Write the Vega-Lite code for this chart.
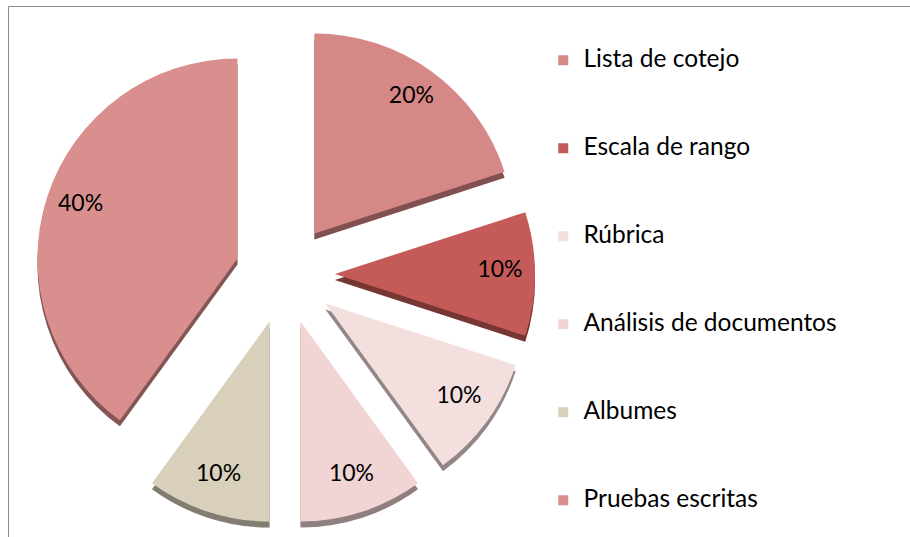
{
  "$schema": "https://vega.github.io/schema/vega-lite/v6.json",
  "width": 905,
  "height": 535,
  "autosize": "none",
  "padding": {"left": 8, "top": 6, "right": 0, "bottom": 0},
  "background": "#ffffff",
  "config": {"view": {"stroke": "#8c8c8c", "strokeWidth": 1}, "font": "Lato"},
  "data": {
    "values": [
      {"idx": 1, "tecnica": "Lista de cotejo", "pct": 20},
      {"idx": 2, "tecnica": "Escala de rango", "pct": 10},
      {"idx": 3, "tecnica": "Rúbrica", "pct": 10},
      {"idx": 4, "tecnica": "Análisis de documentos", "pct": 10},
      {"idx": 5, "tecnica": "Albumes", "pct": 10},
      {"idx": 6, "tecnica": "Pruebas escritas", "pct": 40}
    ]
  },
  "transform": [
    {"window": [{"op": "sum", "field": "pct", "as": "cum"}], "sort": [{"field": "idx"}], "frame": [null, 0]},
    {"calculate": "(datum.cum - datum.pct / 2) / 100 * 2 * PI", "as": "mid"},
    {"calculate": "sin(datum.mid)", "as": "ex"},
    {"calculate": "-cos(datum.mid)", "as": "ey"},
    {"calculate": "datum.pct + '%'", "as": "label"}
  ],
  "encoding": {
    "x": {"field": "ex", "type": "quantitative", "scale": {"domain": [-1, 1], "range": [227, 327], "zero": false, "nice": false}, "axis": null},
    "y": {"field": "ey", "type": "quantitative", "scale": {"domain": [-1, 1], "range": [218, 318], "zero": false, "nice": false}, "axis": null},
    "theta": {"field": "pct", "type": "quantitative", "stack": true},
    "order": {"field": "idx", "type": "quantitative"},
    "color": {
      "field": "tecnica", "type": "nominal",
      "scale": {
        "domain": ["Lista de cotejo", "Escala de rango", "Rúbrica", "Análisis de documentos", "Albumes", "Pruebas escritas"],
        "range": ["#d68886", "#c55b58", "#f4dfdf", "#f1d4d4", "#d9d0bc", "#d88f8d"]
      },
      "legend": {
        "orient": "none",
        "legendX": 543,
        "legendY": 42,
        "title": null,
        "padding": 0,
        "symbolType": "square",
        "symbolSize": 100,
        "symbolStrokeWidth": 0,
        "labelFont": "Lato",
        "labelFontSize": 24.5,
        "labelColor": "#000000",
        "labelOffset": 8,
        "labelLimit": 400,
        "rowPadding": 63
      }
    }
  },
  "layer": [
    {"mark": {"type": "arc", "radius": 200, "yOffset": 6}},
    {"mark": {"type": "arc", "radius": 200, "yOffset": 6, "fill": "#000000", "fillOpacity": 0.4}},
    {"mark": {"type": "arc", "radius": 200}},
    {
      "mark": {"type": "text", "radius": 165, "dy": -4, "fontSize": 23, "font": "Lato", "fill": "#000000"},
      "encoding": {"text": {"field": "label", "type": "nominal"}}
    }
  ]
}
